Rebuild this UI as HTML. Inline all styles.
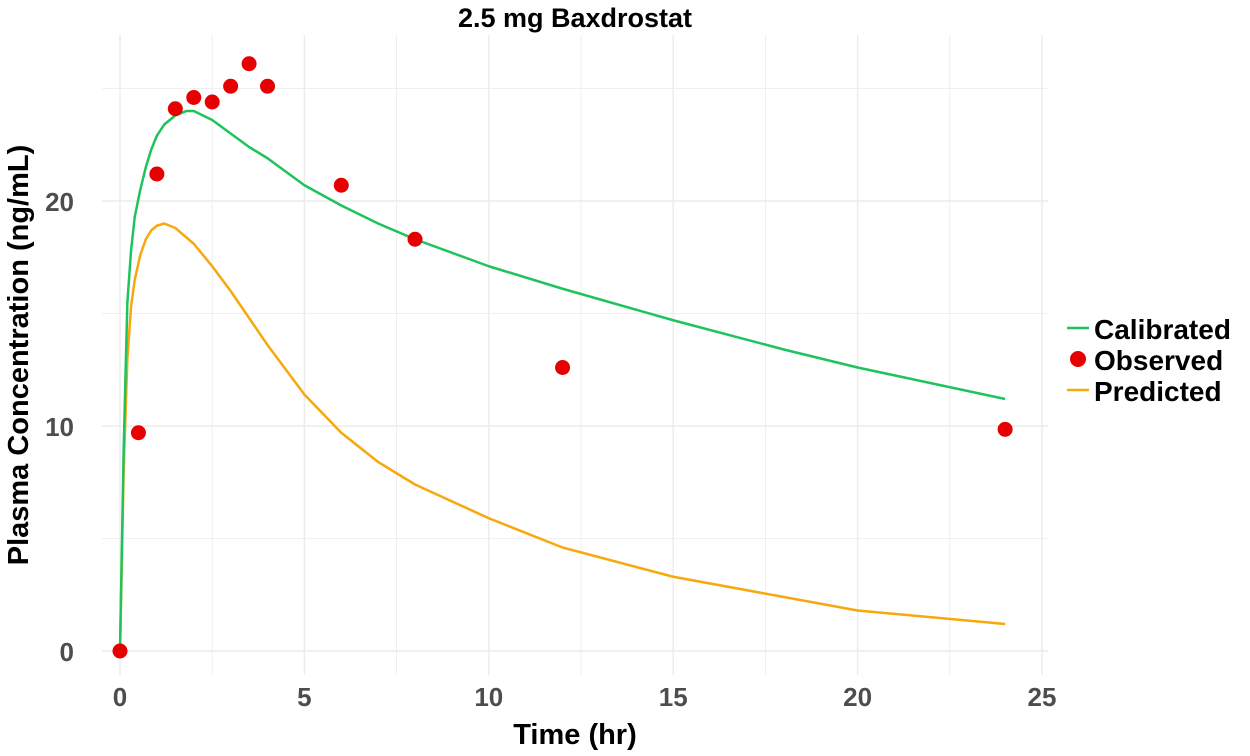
<!DOCTYPE html>
<html><head><meta charset="utf-8"><style>
body{margin:0;background:#fff;font-family:"Liberation Sans",sans-serif}
</style></head><body>
<svg id="chart" width="1250" height="751" xmlns="http://www.w3.org/2000/svg" font-family="Liberation Sans, sans-serif">
<text x="575" y="27" text-anchor="middle" font-size="27" font-weight="bold">2.5 mg Baxdrostat</text>
<g id="grid"></g><g id="series"></g><g id="ticks"></g>
<text x="575" y="744" text-anchor="middle" font-size="29" font-weight="bold">Time (hr)</text>
<text transform="translate(28,355) rotate(-90)" text-anchor="middle" font-size="29" font-weight="bold">Plasma Concentration (ng/mL)</text>
<g font-size="28" font-weight="bold">
<line x1="1067" y1="328" x2="1089" y2="328" stroke="#1fc35e" stroke-width="2.5"/><text x="1094" y="339">Calibrated</text>
<circle cx="1078" cy="359" r="8" fill="#e60000"/><text x="1094" y="370">Observed</text>
<line x1="1067" y1="390" x2="1089" y2="390" stroke="#f7a80c" stroke-width="2.5"/><text x="1094" y="401">Predicted</text>
</g>
</svg>
<script>
const xTicks=[0,5,10,15,20,25];
const yTicks=[0,10,20];
const calT=[0,0.1,0.2,0.3,0.4,0.55,0.7,0.85,1,1.2,1.5,1.8,2,2.5,3,3.5,4,5,6,7,8,10,12,15,18,20,22,24];
const calV=[0,9,15.5,17.8,19.3,20.5,21.5,22.3,22.9,23.4,23.8,24,24,23.6,23,22.4,21.9,20.7,19.8,19,18.3,17.1,16.1,14.7,13.4,12.6,11.9,11.2];
const preT=[0,0.1,0.2,0.3,0.4,0.55,0.7,0.85,1,1.2,1.5,2,2.5,3,3.5,4,5,6,7,8,10,12,15,18,20,22,24];
const preV=[0,8,13,15.3,16.5,17.6,18.3,18.7,18.9,19,18.8,18.1,17.1,16,14.8,13.6,11.4,9.7,8.4,7.4,5.9,4.6,3.3,2.4,1.8,1.5,1.2];
const obsT=[0,0.5,1,1.5,2,2.5,3,3.5,4,6,8,12,24];
const obsV=[0,9.7,21.2,24.1,24.6,24.4,25.1,26.1,25.1,20.7,18.3,12.6,9.85];
const X=t=>120+t*36.88, Y=v=>651-v*22.5;
const NS="http://www.w3.org/2000/svg";
function mk(tag,attrs,parent){const e=document.createElementNS(NS,tag);for(const k in attrs)e.setAttribute(k,attrs[k]);document.getElementById(parent).appendChild(e);return e;}
const L=102,R=1048,T=35,B=675;
for(let t=0;t<=25;t+=2.5){const e=mk('line',{x1:X(t),x2:X(t),y1:T,y2:B,stroke:'#ebebeb','stroke-width':t%5===0?1.4:0.8},'grid');

}
for(let v=0;v<=25;v+=5){const e=mk('line',{x1:L,x2:R,y1:Y(v),y2:Y(v),stroke:'#ebebeb','stroke-width':v%10===0?1.4:0.8},'grid');

}
xTicks.forEach(t=>{const e=mk('text',{x:X(t),y:706,'text-anchor':'middle','font-size':26,'font-weight':'bold',fill:'#4d4d4d'},'ticks');e.textContent=t;

});
yTicks.forEach(v=>{const e=mk('text',{x:74,y:Y(v)+10,'text-anchor':'end','font-size':26,'font-weight':'bold',fill:'#4d4d4d'},'ticks');e.textContent=v;

});
function line(ts,vs,c,name){const d=ts.map((t,i)=>(i?'L':'M')+X(t)+','+Y(vs[i])).join('');const e=mk('path',{d:d,fill:'none',stroke:c,'stroke-width':2.5,'stroke-linejoin':'round'},'series');

}
line(preT,preV,'#f7a80c','predicted-line');
line(calT,calV,'#1fc35e','calibrated-line');
obsT.forEach((t,i)=>{const e=mk('circle',{cx:X(t),cy:Y(obsV[i]),r:7.5,fill:'#e60000'},'series');

});
</script>
</body></html>
